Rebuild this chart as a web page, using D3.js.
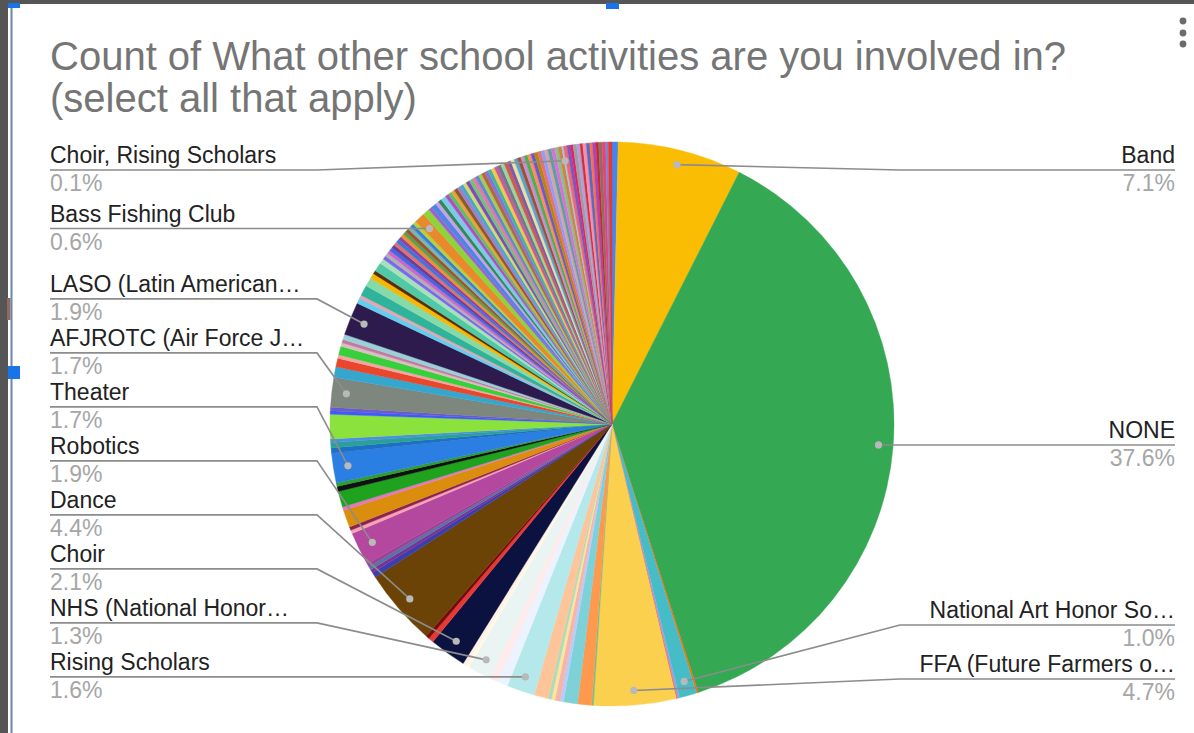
<!DOCTYPE html>
<html>
<head>
<meta charset="utf-8">
<script src="https://cdn.jsdelivr.net/npm/d3@7"></script>
<style>
  html, body { margin: 0; padding: 0; background: #ffffff; }
  svg { display: block; }
  text { font-family: Arial, "Liberation Sans", sans-serif; }
</style>
</head>
<body>
<svg id="chart" width="1194" height="733"></svg>
<script>
// ---------------- DATA (percent of responses, clockwise from 12 o'clock) ----------------
const titleLines = ["Count of What other school activities are you involved in?", "(select all that apply)"];

const sliceValues = [
  0.35, 7.1, 37.6, 0.1, 1.0, 0.1, 0.1, 4.7, 0.1, 0.8,
  0.8, 0.2, 0.3, 0.2, 0.2, 0.8, 1.6, 0.6, 0.5, 1.3,
  0.2, 0.2, 2.1, 0.3, 0.2, 4.4, 0.3, 0.2, 0.2, 0.2,
  1.9, 0.2, 0.2, 1.0, 0.2, 0.9, 0.3, 0.2, 1.7, 0.3,
  0.3, 0.2, 1.4, 0.2, 0.2, 1.7, 0.6, 0.5, 0.2, 0.5,
  0.2, 0.2, 0.3, 1.9,
  0.3, 0.2, 0.6, 0.5, 0.3, 0.2, 0.5, 0.3, 0.2, 0.2,
  0.2, 0.2, 0.2, 0.2, 0.2, 0.2, 0.2, 0.2, 0.2, 0.2,
  0.2, 0.2,
  0.6,
  0.4, 0.2, 0.3, 0.2, 0.2, 0.3, 0.2, 0.2, 0.2, 0.2,
  0.2, 0.2, 0.2, 0.2, 0.2, 0.2, 0.2, 0.2, 0.2, 0.2,
  0.2, 0.2, 0.2, 0.2, 0.2, 0.2, 0.2, 0.2, 0.2, 0.2,
  0.2, 0.2, 0.2, 0.2, 0.2, 0.2, 0.19, 0.2, 0.2, 0.2,
  0.2, 0.2,
  0.1,
  0.2, 0.2, 0.15, 0.2, 0.2, 0.15, 0.2, 0.2, 0.15, 0.2,
  0.15, 0.2, 0.2, 0.15, 0.21
];

// names shown in the chart ("" = slice without a visible label)
const sliceNames = [
  "", "Band", "NONE", "", "National Art Honor So…", "", "", "FFA (Future Farmers o…", "", "",
  "", "", "", "", "", "", "Rising Scholars", "", "", "NHS (National Honor…",
  "", "", "Choir", "", "", "Dance", "", "", "", "",
  "Robotics", "", "", "", "", "", "", "", "Theater", "",
  "", "", "", "", "", "AFJROTC (Air Force J…", "", "", "", "",
  "", "", "", "LASO (Latin American…",
  "", "", "", "", "", "", "", "", "", "",
  "", "", "", "", "", "", "", "", "", "",
  "", "",
  "Bass Fishing Club",
  "", "", "", "", "", "", "", "", "", "",
  "", "", "", "", "", "", "", "", "", "",
  "", "", "", "", "", "", "", "", "", "",
  "", "", "", "", "", "", "", "", "", "",
  "", "",
  "Choir, Rising Scholars",
  "", "", "", "", "", "", "", "", "", "",
  "", "", "", "", ""
];

// ---------------- STYLES ----------------
const sliceColors = [
  "#4285F4","#FBBC04","#34A853","#FF6D01","#46BDC6","#7BAAF7","#F07B72","#FCD04F","#71C287","#FF994D",
  "#7ED1D7","#B3CEFB","#F7B4AE","#FDE49B","#AEDCBA","#FFC599","#B5E8EB","#ECF3FE","#FDECEB","#EAF5F3",
  "#FFF8E6","#FFF0E6","#0B1240","#E53935","#7A0A0A","#6B4306","#3B3EAC","#7B3294","#5574A6","#994499",
  "#B4479E","#F7A1B5","#8B2252","#DB8E0E","#E377C2","#1FA31F","#111111","#2E9E2E","#2B7FE3","#1F6FC4",
  "#2AA198","#4A90E2","#8CE23C","#3D5AFE","#6A5ACD","#7D877D","#35A7CF","#E8472C","#F4A6A6","#37D03A",
  "#D8C0C0","#C27BA0","#9BD0D8","#2D1B4E",
  "#63CDEB","#E6A5B5","#2FB39A","#86D9A8","#F5B700","#5B2C06","#4FC9A6","#A8E0B8","#7B68EE","#B0B0B0",
  "#CC66CC","#4169E1","#6A3D9A","#E07070","#3C78D8","#8E44AD","#F28E2B","#59A14F","#A0522D","#76B7B2",
  "#3D7DD8","#B5D334",
  "#E8892E",
  "#8CD43A","#9F5FD3","#4F86E0","#C8A0E8","#2E8B57","#7FC8E8","#B04FBF","#5BBF6A","#E8A23C","#8A5A2B",
  "#9C7FD0","#47A8C8","#D8D86A","#7A4FB8","#6EC27A","#E07BA8","#5E8CCB","#A8C85A","#B06A3A","#8E6FD8",
  "#3FB5A0","#F2C84B","#C75C9C","#6C7A89","#9ED39A","#D05A4E","#7D5BA6","#E8E0A0","#58A4D8","#A0522D",
  "#C390D4","#4CAF50","#FF8A65","#6A5ACD","#B8860B","#E57373","#8C9EFF","#D4A5A5","#5F9EA0","#DA70D6",
  "#8FBC8F","#CD853F",
  "#A4C2F4",
  "#F06A6A","#7E57C2","#E91E63","#9E9E9E","#B39DDB","#D32F2F","#F48FB1","#5C6BC0","#FF7043","#AB47BC",
  "#C62828","#8D6E63","#EC407A","#7986CB","#E53935"
];
const fallback = d3.schemeTableau10;

const W = 1194, H = 733;
const cx = 612, cy = 424, R = 282;
const dotR = R * 0.948;
const leftTextX = 50, rightTextX = 1175;
const leftElbowX = 317, rightElbowX = 900;
const minLineY = 170, maxLineY = 679, gap = 54;
const labelSize = 23;

const svg = d3.select("#chart");
svg.append("rect").attr("width", W).attr("height", H).attr("fill", "#ffffff");

// ---- screenshot frame details ----
svg.append("rect").attr("x", 0).attr("y", 0).attr("width", 8).attr("height", H).attr("fill", "#555555");
svg.append("rect").attr("x", 0).attr("y", 0).attr("width", W).attr("height", 4).attr("fill", "#555555");
svg.append("rect").attr("x", 10.5).attr("y", 4).attr("width", 2).attr("height", H - 4).attr("fill", "#6d86ad");
svg.append("rect").attr("x", 7).attr("y", 298).attr("width", 3.5).attr("height", 22).attr("fill", "#8d6c60");
svg.append("rect").attr("x", 8).attr("y", 3).attr("width", 12).attr("height", 5).attr("fill", "#1a73e8");
svg.append("rect").attr("x", 606).attr("y", 3).attr("width", 13).attr("height", 6).attr("fill", "#1a73e8");
svg.append("rect").attr("x", 8).attr("y", 366).attr("width", 12).attr("height", 13).attr("fill", "#1a73e8");
[21, 33, 44].forEach(y => svg.append("circle").attr("cx", 1183).attr("cy", y).attr("r", 3.4).attr("fill", "#6b6b6b"));

// ---- title ----
const title = svg.append("g");
title.selectAll("text").data(titleLines).join("text")
  .attr("x", 50)
  .attr("y", (d, i) => i === 0 ? 70 : 112)
  .attr("font-size", 40)
  .attr("fill", "#757575")
  .text(d => d);

// ---- pie ----
const total = d3.sum(sliceValues);
const pie = d3.pie().sort(null).value(d => d).startAngle(0).endAngle(2 * Math.PI);
const arcs = pie(sliceValues);
const arcGen = d3.arc().innerRadius(0).outerRadius(R);

const g = svg.append("g").attr("transform", `translate(${cx},${cy})`);
g.selectAll("path").data(arcs).join("path")
  .attr("d", arcGen)
  .attr("fill", d => sliceColors[d.index] || fallback[d.index % 10])
  .attr("stroke", d => sliceColors[d.index] || fallback[d.index % 10])
  .attr("stroke-width", 0.4);

// ---- labels ----
const fmt = v => d3.format(".1f")(v / total * 100) + "%";
const items = arcs.filter(d => sliceNames[d.index]).map(d => {
  const a = (d.startAngle + d.endAngle) / 2;
  const x = cx + dotR * Math.sin(a);
  const y = cy - dotR * Math.cos(a);
  return { name: sliceNames[d.index], pct: fmt(d.value), x, y, side: a > Math.PI ? "left" : "right", desired: y };
});

["left", "right"].forEach(side => {
  const list = items.filter(it => it.side === side).sort((a, b) => b.desired - a.desired);
  let prev = Infinity;
  list.forEach(it => {
    it.ly = Math.min(it.desired, prev - gap, maxLineY);
    prev = it.ly;
  });
  list.reverse();
  let prevUp = -Infinity;
  list.forEach(it => {
    it.ly = Math.max(it.ly, minLineY, prevUp + gap * 0.95);
    prevUp = it.ly;
  });
});

const lab = svg.append("g");
items.forEach(it => {
  const left = it.side === "left";
  const ex = left ? leftElbowX : rightElbowX;
  const endX = left ? leftTextX : rightTextX;
  lab.append("path")
    .attr("d", d3.line()([[it.x, it.y], [ex, it.ly], [endX, it.ly]]))
    .attr("fill", "none")
    .attr("stroke", "#8c8c8c")
    .attr("stroke-width", 1.6);
  lab.append("circle").attr("cx", it.x).attr("cy", it.y).attr("r", 3.6).attr("fill", "#b9b9b9");
  lab.append("text")
    .attr("x", endX).attr("y", it.ly - 7)
    .attr("text-anchor", left ? "start" : "end")
    .attr("font-size", labelSize).attr("fill", "#222222")
    .text(it.name);
  lab.append("text")
    .attr("x", endX).attr("y", it.ly + 21)
    .attr("text-anchor", left ? "start" : "end")
    .attr("font-size", labelSize).attr("fill", "#a6a6a6")
    .text(it.pct);
});
</script>
</body>
</html>
